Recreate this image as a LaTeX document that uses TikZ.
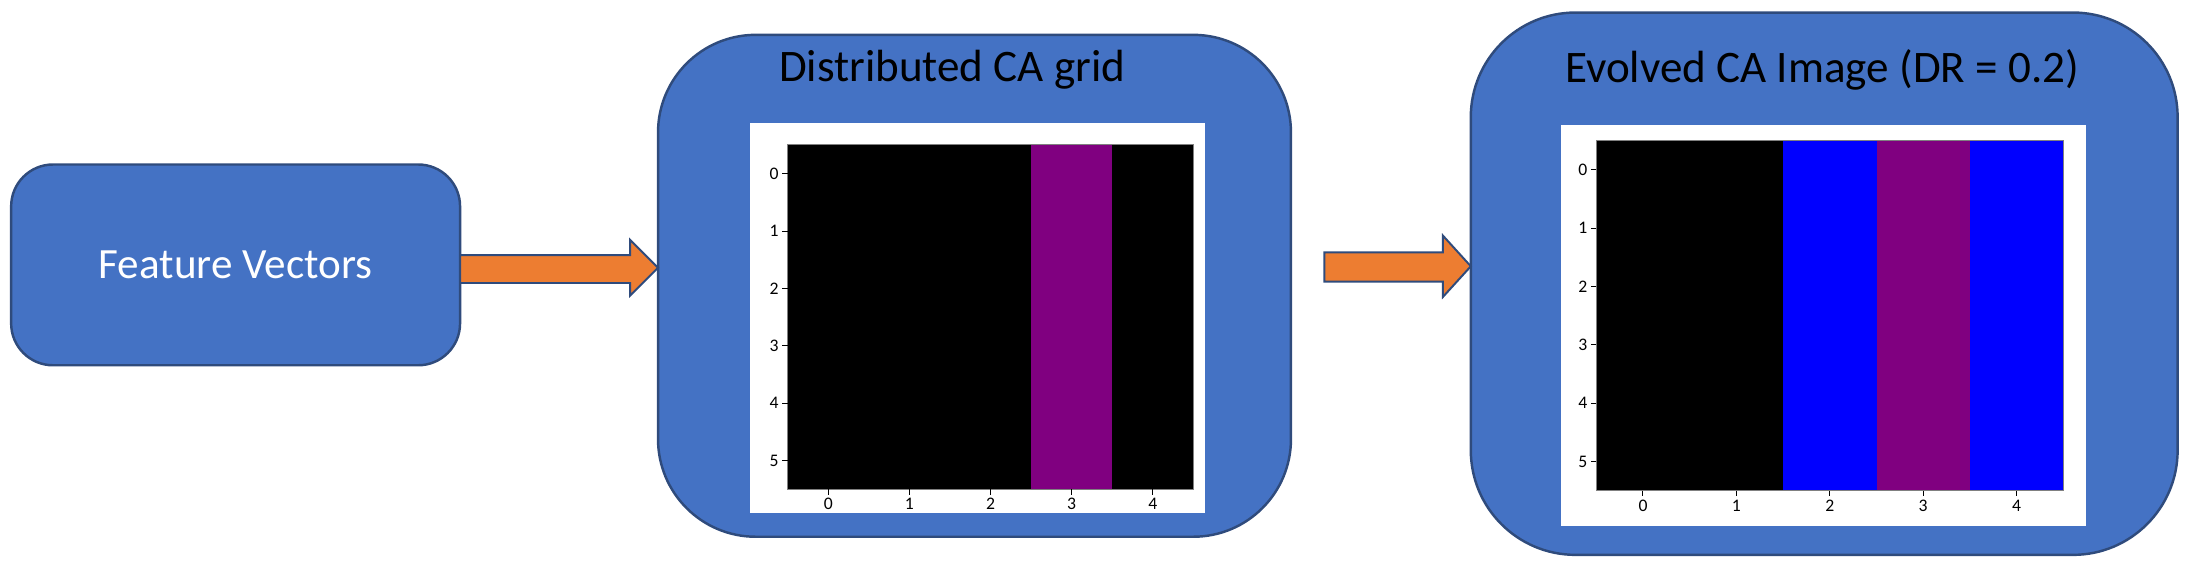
\documentclass[tikz,border=0pt]{standalone}
\usepackage{fontspec}
\setmainfont{Carlito}
\usetikzlibrary{shapes.arrows}
\definecolor{boxblue}{HTML}{4472C4}
\definecolor{boxline}{HTML}{2F4B7C}
\definecolor{arr}{HTML}{ED7D31}
\definecolor{pur}{HTML}{800080}
\begin{document}
\begin{tikzpicture}[x=0.01cm,y=-0.01cm,
  box/.style={draw=boxline,fill=boxblue,line width=0.5pt},
  ttl/.style={font=\fontsize{9.2}{11}\selectfont,inner sep=0},
  tick/.style={font=\fontsize{3.6}{4}\selectfont,inner sep=0.5pt},
  arrow/.style={draw=boxline,fill=arr,line width=0.4pt}]
\useasboundingbox (0,0) rectangle (1568,409);
% boxes
\draw[box,rounded corners=0.3cm] (8,118) rectangle (330,262);
\node[ttl,text=white,font=\fontsize{8.8}{11}\selectfont] (fv) at (169,190) {Feature Vectors};
\draw[box,rounded corners=0.7cm] (472,25) rectangle (926,385);
\node[ttl] (t2) at (683,50) {Distributed CA grid};
\draw[box,rounded corners=0.75cm] (1055,9) rectangle (1562,398);
\node[ttl] (t3) at (1307,50) {Evolved CA Image (DR = 0.2)};
% arrows
\draw[arrow] (330,183) -- (452,183) -- (452,172) -- (472,192) -- (452,212) -- (452,203) -- (330,203) -- cycle;
\draw[arrow] (950,181) -- (1035,181) -- (1035,169) -- (1055,191) -- (1035,213) -- (1035,202) -- (950,202) -- cycle;
% plot 1
\fill[white] (538,88) rectangle (864,368);
\fill[black] (565,104) rectangle (856,351);
\fill[pur] (739.6,104) rectangle (797.8,351);
\draw[gray,line width=0.2pt] (565,104) rectangle (856,351);
\foreach \i in {0,...,5}{
  \pgfmathsetmacro\yy{104+41.17*(\i+0.5)}
  \draw[line width=0.2pt] (565,\yy) -- (561,\yy);
  \node[tick,anchor=east] at (561,\yy) {\i};}
\foreach \i in {0,...,4}{
  \pgfmathsetmacro\xx{565+58.2*(\i+0.5)}
  \draw[line width=0.2pt] (\xx,351) -- (\xx,355);
  \node[tick,anchor=north] at (\xx,355) {\i};}
% plot 2
\fill[white] (1120,90) rectangle (1496,377);
\fill[black] (1145,101) rectangle (1480,352);
\fill[blue] (1279,101) rectangle (1346,352);
\fill[pur] (1346,101) rectangle (1413,352);
\fill[blue] (1413,101) rectangle (1480,352);
\draw[gray,line width=0.2pt] (1145,101) rectangle (1480,352);
\foreach \i in {0,...,5}{
  \pgfmathsetmacro\yy{101+41.83*(\i+0.5)}
  \draw[line width=0.2pt] (1145,\yy) -- (1141,\yy);
  \node[tick,anchor=east] at (1141,\yy) {\i};}
\foreach \i in {0,...,4}{
  \pgfmathsetmacro\xx{1145+67*(\i+0.5)}
  \draw[line width=0.2pt] (\xx,352) -- (\xx,356);
  \node[tick,anchor=north] at (\xx,356) {\i};}
\end{tikzpicture}
\end{document}
